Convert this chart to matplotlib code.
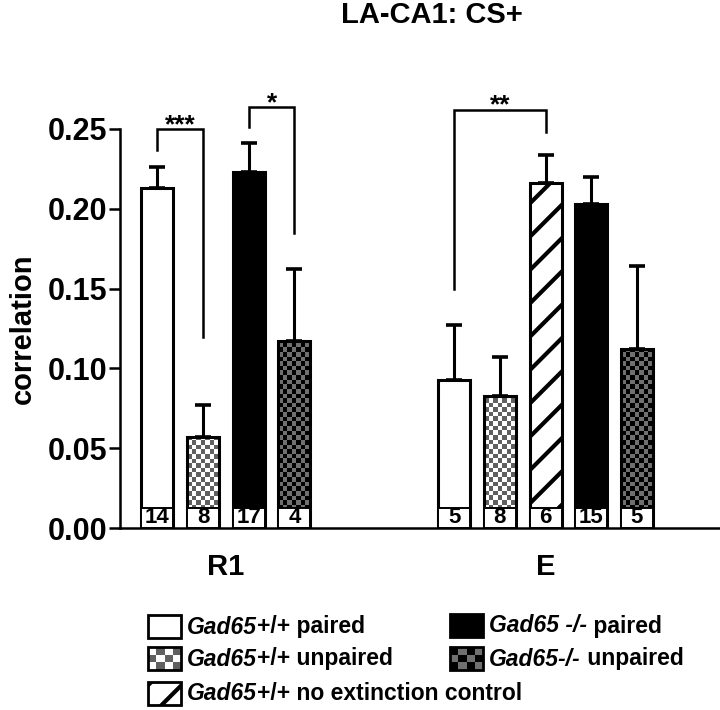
import numpy as np
import matplotlib
matplotlib.use("Agg")
import matplotlib.pyplot as plt
from matplotlib.colors import ListedColormap
from matplotlib.patches import Rectangle

plt.rcParams["font.family"] = ["Liberation Sans", "DejaVu Sans"]
plt.rcParams["font.weight"] = "bold"
plt.rcParams["hatch.linewidth"] = 3.0

# data
groups = ["R1", "E"]
r1_styles = ["white", "light", "black", "dark"]
r1_means = [0.213, 0.057, 0.223, 0.117]
r1_sem = [0.013, 0.020, 0.018, 0.045]
r1_n = [14, 8, 17, 4]
e_styles = ["white", "light", "hatch", "black", "dark"]
e_means = [0.093, 0.083, 0.216, 0.203, 0.112]
e_sem = [0.034, 0.024, 0.018, 0.017, 0.052]
e_n = [5, 8, 6, 15, 5]

# significance brackets: bar index pairs (over all bars), top, left / right leg ends
sig_pairs = [(0, 1), (2, 3), (4, 6)]
sig_top = [0.2497, 0.2635, 0.262]
sig_left_end = [0.237, 0.251, 0.150]
sig_right_end = [0.1195, 0.185, 0.248]
sig_labels = ["***", "*", "**"]

legend_items = [("white", "Gad65", "+/+ paired"),
                ("light", "Gad65", "+/+ unpaired"),
                ("hatch", "Gad65", "+/+ no extinction control"),
                ("black", "Gad65 -/-", " paired"),
                ("dark", "Gad65-/-", " unpaired")]

light_cmap = ListedColormap(["white", "#606060"])
dark_cmap = ListedColormap(["black", "#707070"])


def checker(axis, x0, y0, w, h, cw, ch, cmap, clip, z):
    nx = int(np.ceil(abs(w) / cw))
    ny = int(np.ceil(abs(h) / ch))
    jj, ii = np.indices((ny, nx))
    img = (ii + jj) % 2
    im = axis.imshow(img, cmap=cmap, extent=(x0, x0 + nx * cw, y0, y0 + ny * ch * np.sign(h)),
                     aspect="auto", interpolation="nearest", origin="lower", zorder=z)
    im.set_clip_path(clip)


fig = plt.figure(figsize=(7.2, 7.1), dpi=100)
ax = fig.add_axes([120 / 720, 182 / 710, 600 / 720, 399 / 710])

pos = np.concatenate([np.arange(len(r1_means)), 6.5 + np.arange(len(e_means))])
means = r1_means + e_means
sems = r1_sem + e_sem
ns = r1_n + e_n
styles = r1_styles + e_styles
width = 0.70

for x, m, s, n, st in zip(pos, means, sems, ns, styles):
    face = {"white": "white", "black": "black"}.get(st, "none")
    bar = ax.bar(x, m, width, facecolor=face, edgecolor="black", linewidth=2.2,
                 hatch="/" if st == "hatch" else None, zorder=2)[0]
    if st in ("light", "dark"):
        checker(ax, x - width / 2, 0, width, m, 0.099, 0.0029,
                light_cmap if st == "light" else dark_cmap, bar, 1.5)
    ax.errorbar(x, m, yerr=[[0], [s]], fmt="none", ecolor="black", elinewidth=2.2,
                capsize=6, capthick=2.6, zorder=2.1)
    ax.add_patch(Rectangle((x - width / 2, 0), width, 0.0128, facecolor="white",
                           edgecolor="black", linewidth=1.4, zorder=3))
    ax.text(x, 0.0003, str(n), ha="center", va="bottom", fontsize=16,
            fontweight="bold", zorder=4)

for (a, b), top, le, re, lab in zip(sig_pairs, sig_top, sig_left_end, sig_right_end, sig_labels):
    ax.plot([pos[a], pos[a], pos[b], pos[b]], [le, top, top, re], color="black",
            linewidth=1.8, clip_on=False, solid_joinstyle="miter")
    ax.text((pos[a] + pos[b]) / 2, top - 0.0015, lab, ha="center", va="baseline",
            fontsize=19, fontweight="bold")

ax.set_xlim(-0.82, 12.32)
ax.set_ylim(0, 0.25)
ax.set_yticks([0, 0.05, 0.10, 0.15, 0.20, 0.25])
ax.set_yticklabels(["0.00", "0.05", "0.10", "0.15", "0.20", "0.25"])
ax.set_xticks([pos[:4].mean(), pos[4:].mean()])
ax.set_xticklabels(groups)
ax.tick_params(axis="y", length=8, width=1.8, labelsize=22, pad=1)
ax.tick_params(axis="x", length=0, labelsize=21, pad=18)
ax.set_ylabel("correlation", fontsize=21, fontweight="bold", labelpad=8)
for sp in ["top", "right"]:
    ax.spines[sp].set_visible(False)
for sp in ["left", "bottom"]:
    ax.spines[sp].set_linewidth(1.8)
ax.set_title("LA-CA1: CS+", fontsize=21, fontweight="bold", x=0.52, y=1.245)

# legend drawn in pixel coordinates
lax = fig.add_axes([0, 0, 1, 1])
lax.set_xlim(0, 720)
lax.set_ylim(710, 0)
lax.axis("off")
leg_x = [148, 148, 148, 450, 450]
leg_y = [615, 647, 682, 614, 647]
for (st, ital, rest), lx, ly in zip(legend_items, leg_x, leg_y):
    face = {"white": "white", "black": "black"}.get(st, "none")
    p = Rectangle((lx, ly), 33, 23, facecolor=face, edgecolor="black", linewidth=2.0,
                  hatch="/" if st == "hatch" else None, zorder=2)
    lax.add_patch(p)
    if st in ("light", "dark"):
        checker(lax, lx, ly, 33, 23, 8.3, 7.7, light_cmap if st == "light" else dark_cmap, p, 1.5)
    t1 = lax.text(lx + 39, ly + 12, ital, style="italic", fontweight="bold", fontsize=16.5,
                  va="center", ha="left")
    lax.annotate(rest, xy=(1, 0.5), xycoords=t1, va="center", ha="left",
                 fontsize=16.5, fontweight="bold")
lax.set_xlim(0, 720)
lax.set_ylim(710, 0)

fig.savefig("out.png", dpi=100)
